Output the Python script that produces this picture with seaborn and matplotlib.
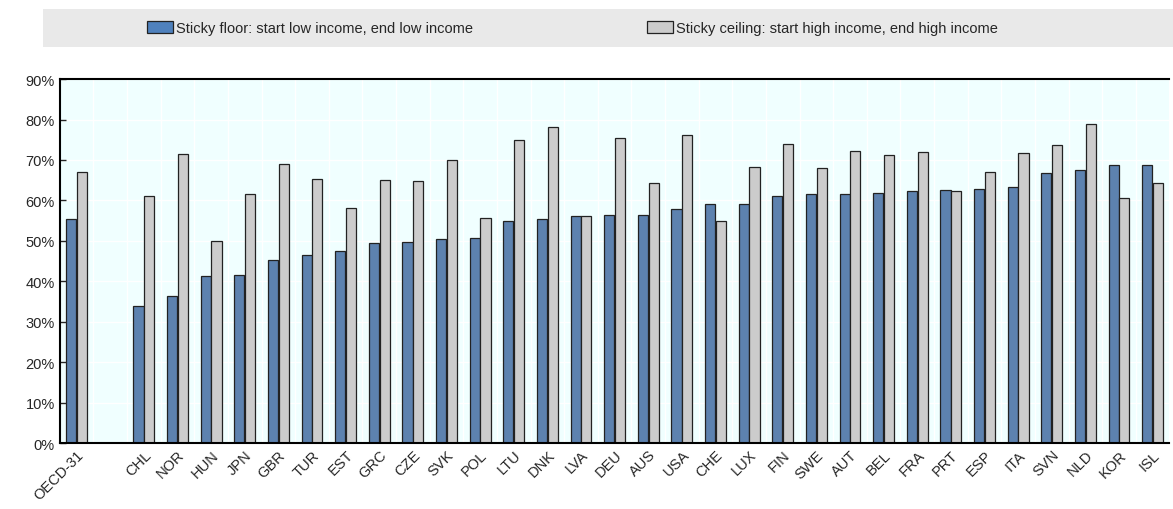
import pandas as pd
import matplotlib.pyplot as plt
import matplotlib.patches as mpatches
import seaborn as sns
from matplotlib.ticker import PercentFormatter, FixedLocator

# -------------------------
# Data
# -------------------------
countries = ["OECD-31", " ", "CHL", "NOR", "HUN", "JPN", "GBR", "TUR", "EST", "GRC", "CZE",
             "SVK", "POL", "LTU", "DNK", "LVA", "DEU", "AUS", "USA", "CHE", "LUX",
             "FIN", "SWE", "AUT", "BEL", "FRA", "PRT", "ESP", "ITA", "SVN", "NLD",
             "KOR", "ISL"]
sticky_floor = [55.3, None, 33.8, 36.5, 41.3, 41.5, 45.2, 46.6, 47.4, 49.4, 49.8,
                50.4, 50.7, 54.9, 55.4, 56.2, 56.3, 56.4, 58.0, 59.1, 59.2,
                61.0, 61.5, 61.6, 61.9, 62.3, 62.5, 62.9, 63.3, 66.7, 67.5,
                68.7, 68.8]
sticky_ceiling = [67.0, None, 61.2, 71.4, 50.1, 61.7, 69.1, 65.4, 58.1, 65.0, 64.9,
                  70.1, 55.6, 75.0, 78.2, 56.2, 75.5, 64.2, 76.2, 55.0, 68.3,
                  74.0, 68.0, 72.2, 71.2, 71.9, 62.3, 67.1, 71.7, 73.8, 78.8,
                  60.5, 64.4]
series = ["Sticky floor: start low income, end low income",
          "Sticky ceiling: start high income, end high income"]
colors = ["#4F81BD", "#CCCCCC"]

df = pd.DataFrame({"country": countries, series[0]: sticky_floor, series[1]: sticky_ceiling})
df_long = df.melt(id_vars="country", var_name="series", value_name="value").dropna()

# -------------------------
# Plot
# -------------------------
sns.set_style("white")
plt.rcParams["font.family"] = ["Liberation Sans", "DejaVu Sans"]

fig = plt.figure(figsize=(11.73, 5.10), dpi=100)
ax = fig.add_axes([0.051, 0.129, 0.946, 0.714])
ax.set_facecolor("#F0FFFF")

sns.barplot(data=df_long, x="country", y="value", hue="series", order=countries,
            hue_order=series, palette=colors, width=0.64, gap=0.06,
            edgecolor="#222222", linewidth=0.9, ax=ax, legend=False)

ax.set_ylim(0, 90)
ax.set_xlim(-0.5, len(countries) - 0.5)
ax.yaxis.set_major_formatter(PercentFormatter(decimals=0))
ax.set_yticks(range(0, 91, 10))
ax.set_xlabel("")
ax.set_ylabel("")

# slot boundaries: white vertical grid + inward ticks
bounds = [i + 0.5 for i in range(len(countries) - 1)]
ax.xaxis.set_minor_locator(FixedLocator(bounds))
ax.tick_params(axis="x", which="major", length=0, labelsize=10.5, pad=3)
ax.tick_params(axis="x", which="minor", direction="in", length=4, width=1, color="black")
ax.tick_params(axis="y", direction="in", length=4, width=1, labelsize=10.5, left=True)
for lbl in ax.get_xticklabels():
    lbl.set_rotation(45)
    lbl.set_ha("right")
    lbl.set_rotation_mode("anchor")

ax.set_axisbelow(True)
ax.grid(axis="y", color="white", linewidth=1)
ax.grid(axis="x", which="minor", color="white", linewidth=1)
for side in ["left", "bottom", "top"]:
    ax.spines[side].set_visible(True)
    ax.spines[side].set_color("black")
    ax.spines[side].set_linewidth(1.5)
ax.spines["right"].set_visible(False)

# legend band
band = mpatches.Rectangle((0.037, 0.906), 0.963, 0.075, transform=fig.transFigure,
                          facecolor="#E9E9E9", edgecolor="none", zorder=0)
fig.patches.append(band)
handles = [mpatches.Patch(facecolor=c, edgecolor="#222222", linewidth=0.9) for c in colors]
fig.legend(handles, series, loc="center", bbox_to_anchor=(0.488, 0.943), ncol=2,
           frameon=False, fontsize=10.5, handlelength=1.8, handleheight=0.9,
           handletextpad=0.2, columnspacing=11.9)

plt.savefig("out.png", dpi=100)
plt.close()
